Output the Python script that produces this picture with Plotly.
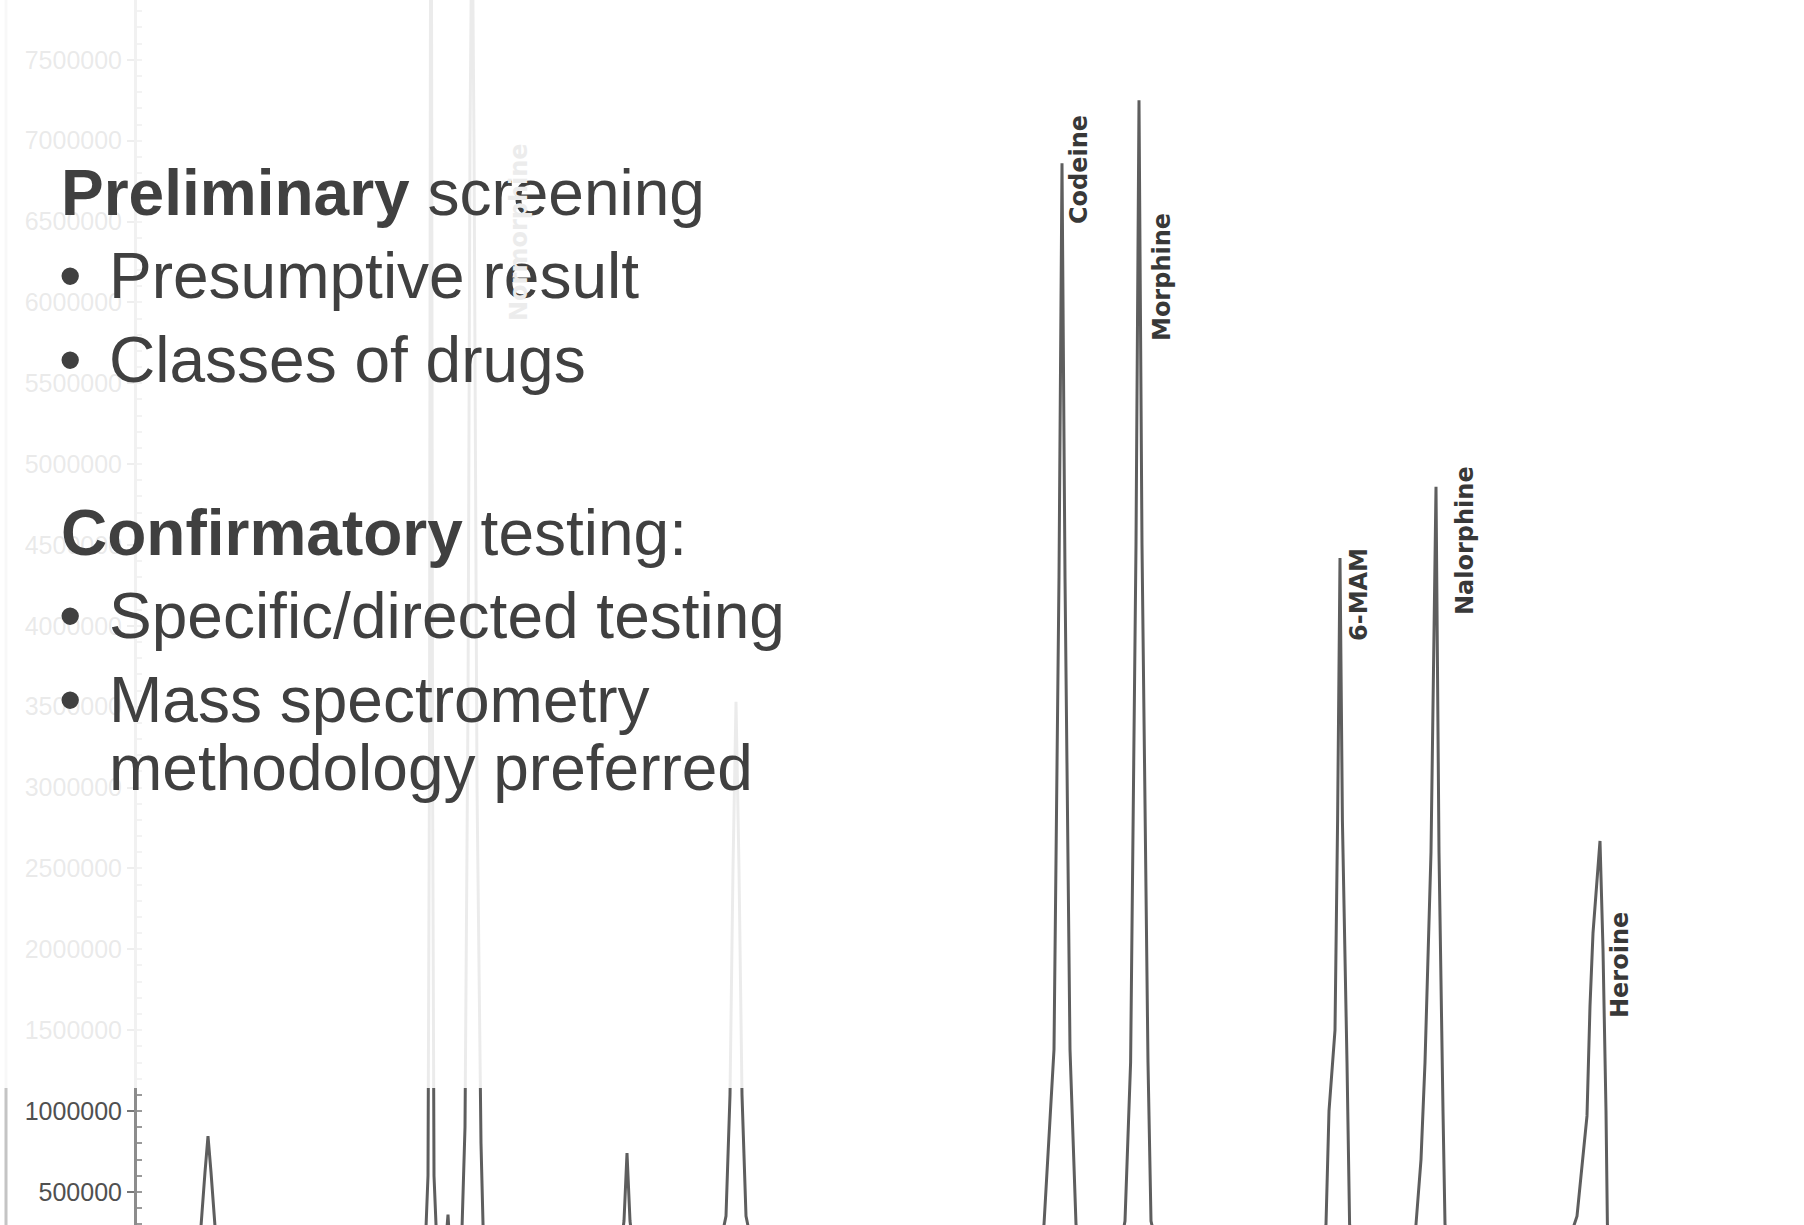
import plotly.graph_objects as go

# ---------------- data ----------------
retention_time = [
    4.000,
    4.255, 4.295, 4.320, 4.340, 4.355, 4.370, 4.390, 4.415, 4.455,
    5.400, 5.440, 5.455, 5.462, 5.467, 5.470, 5.473, 5.478, 5.485, 5.500,
    5.540, 5.550, 5.555, 5.560, 5.575,
    5.620, 5.640, 5.655, 5.665, 5.675, 5.685, 5.700, 5.720, 5.735,
    6.370, 6.415, 6.435, 6.445, 6.450, 6.455, 6.465, 6.485, 6.530,
    6.895, 6.945, 6.965, 6.980, 6.995, 7.010, 7.025, 7.045, 7.095,
    8.500, 8.535, 8.585, 8.610, 8.625, 8.640, 8.665, 8.695, 8.740,
    8.900, 8.940, 8.968, 8.995, 9.010, 9.025, 9.055, 9.070, 9.120,
    9.900, 9.945, 9.960, 9.990, 10.003, 10.015, 10.027, 10.050, 10.063, 10.110,
    10.380, 10.395, 10.420, 10.440, 10.470, 10.495, 10.510, 10.530, 10.540, 10.590,
    11.120, 11.200, 11.225, 11.250, 11.265, 11.280, 11.315, 11.330, 11.345, 11.352, 11.400,
    12.335,
]
intensity = [
    50000,
    50000, 114000, 288000, 622000, 845000, 622000, 288000, 114000, 50000,
    50000, 120000, 600000, 3000000, 7600000, 9200000, 7600000, 3000000, 600000, 150000,
    120000, 280000, 360000, 250000, 60000,
    60000, 900000, 3500000, 7000000, 8600000, 7000000, 3000000, 800000, 60000,
    50000, 120000, 320000, 600000, 740000, 600000, 320000, 120000, 50000,
    50000, 350000, 1100000, 2500000, 3530000, 2500000, 1100000, 350000, 50000,
    50000, 300000, 1380000, 4300000, 6860000, 4300000, 1380000, 300000, 50000,
    50000, 320000, 1300000, 4500000, 7250000, 4500000, 1300000, 320000, 50000,
    50000, 300000, 1000000, 1500000, 2800000, 4420000, 2800000, 1300000, 300000, 50000,
    50000, 300000, 700000, 1300000, 2600000, 4860000, 2600000, 1000000, 300000, 50000,
    50000, 350000, 660000, 970000, 1650000, 2100000, 2670000, 2000000, 1000000, 300000, 50000,
    50000,
]
peak_labels = ["Normorphine", "Codeine", "Morphine", "6-MAM", "Nalorphine", "Heroine"]
y_tick_values = [500000 * k for k in range(1, 16)]

slide_lines = [
    ("<b>Preliminary</b> screening", False),
    ("Presumptive result", True),
    ("Classes of drugs", True),
    ("<b>Confirmatory</b> testing:", False),
    ("Specific/directed testing", True),
    ("Mass spectrometry", True),
    ("methodology preferred", None),
]

# ---------------- layout helpers ----------------
W, H = 1804, 1225
ML = 137
PX_PER_MIN = 200.0
X0 = 4.0
X1 = X0 + (W - ML) / PX_PER_MIN
Y0, Y1 = 295300, 7869800


def pxx(x):
    return (x - ML) / (W - ML)


def pxy(y):
    return 1 - y / H


fig = go.Figure()
fig.add_trace(go.Scatter(
    x=retention_time, y=intensity, mode="lines",
    line=dict(color="#5e5e5e", width=3),
    hoverinfo="skip", showlegend=False,
))

shapes = [
    dict(type="line", xref="paper", yref="paper", x0=pxx(6), x1=pxx(6), y0=0, y1=1,
         line=dict(color="#c4c4c4", width=3), layer="above"),
    dict(type="rect", xref="paper", yref="paper", x0=pxx(-5), x1=pxx(905), y0=pxy(1088), y1=1.02,
         fillcolor="rgba(255,255,255,0.88)", line=dict(width=0), layer="above"),
]

annotations = []
TEXT_COLOR = "#404040"
TEXT_FONT = "Liberation Sans, Arial, sans-serif"
FS = 64
baselines = [215, 298, 382, 555, 638, 722, 790]
for (txt, bullet), base in zip(slide_lines, baselines):
    cy = base - 22
    if bullet is False:
        annotations.append(dict(text=txt, x=pxx(59), y=pxy(cy), xref="paper", yref="paper",
                                xanchor="left", yanchor="middle", showarrow=False,
                                font=dict(family=TEXT_FONT, size=FS, color=TEXT_COLOR)))
    else:
        if bullet:
            annotations.append(dict(text="•", x=pxx(57), y=pxy(cy), xref="paper", yref="paper",
                                    xanchor="left", yanchor="middle", showarrow=False,
                                    font=dict(family=TEXT_FONT, size=FS, color=TEXT_COLOR)))
        annotations.append(dict(text=txt, x=pxx(107), y=pxy(cy), xref="paper", yref="paper",
                                xanchor="left", yanchor="middle", showarrow=False,
                                font=dict(family=TEXT_FONT, size=FS, color=TEXT_COLOR)))

label_pos = [(519, 232), (1079, 170), (1162, 277), (1359, 595), (1465, 541), (1620, 965)]
for i, (name, (lx, ly)) in enumerate(zip(peak_labels, label_pos)):
    annotations.append(dict(text=name, x=pxx(lx), y=pxy(ly), xref="paper", yref="paper",
                            xanchor="center", yanchor="middle", textangle=-90, showarrow=False,
                            font=dict(family="DejaVu Sans", size=24, weight="bold",
                                      color="#ececec" if i == 0 else "#383838")))

fig.update_layout(
    width=W, height=H,
    margin=dict(l=ML, r=0, t=0, b=0),
    paper_bgcolor="white", plot_bgcolor="white",
    showlegend=False,
    shapes=shapes,
    annotations=annotations,
    xaxis=dict(range=[X0, X1], visible=False),
    yaxis=dict(range=[Y0, Y1], tickmode="array", tickvals=y_tick_values,
               ticktext=[str(v) for v in y_tick_values],
               tickfont=dict(family="Liberation Sans, Arial", size=25, color="#505050"),
               showline=True, linecolor="#8c8c8c", linewidth=3,
               ticks="outside", ticklen=7, tickwidth=2, tickcolor="#777777",
               showgrid=False, zeroline=False,
               minor=dict(ticks="inside", tickvals=[100000 * k for k in range(3, 79)],
                          ticklen=5, tickwidth=2, tickcolor="#9a9a9a")),
)

fig.write_html("out.html", config={"displayModeBar": False},
               post_script="document.body.style.margin='0';document.body.style.overflow='hidden';")
